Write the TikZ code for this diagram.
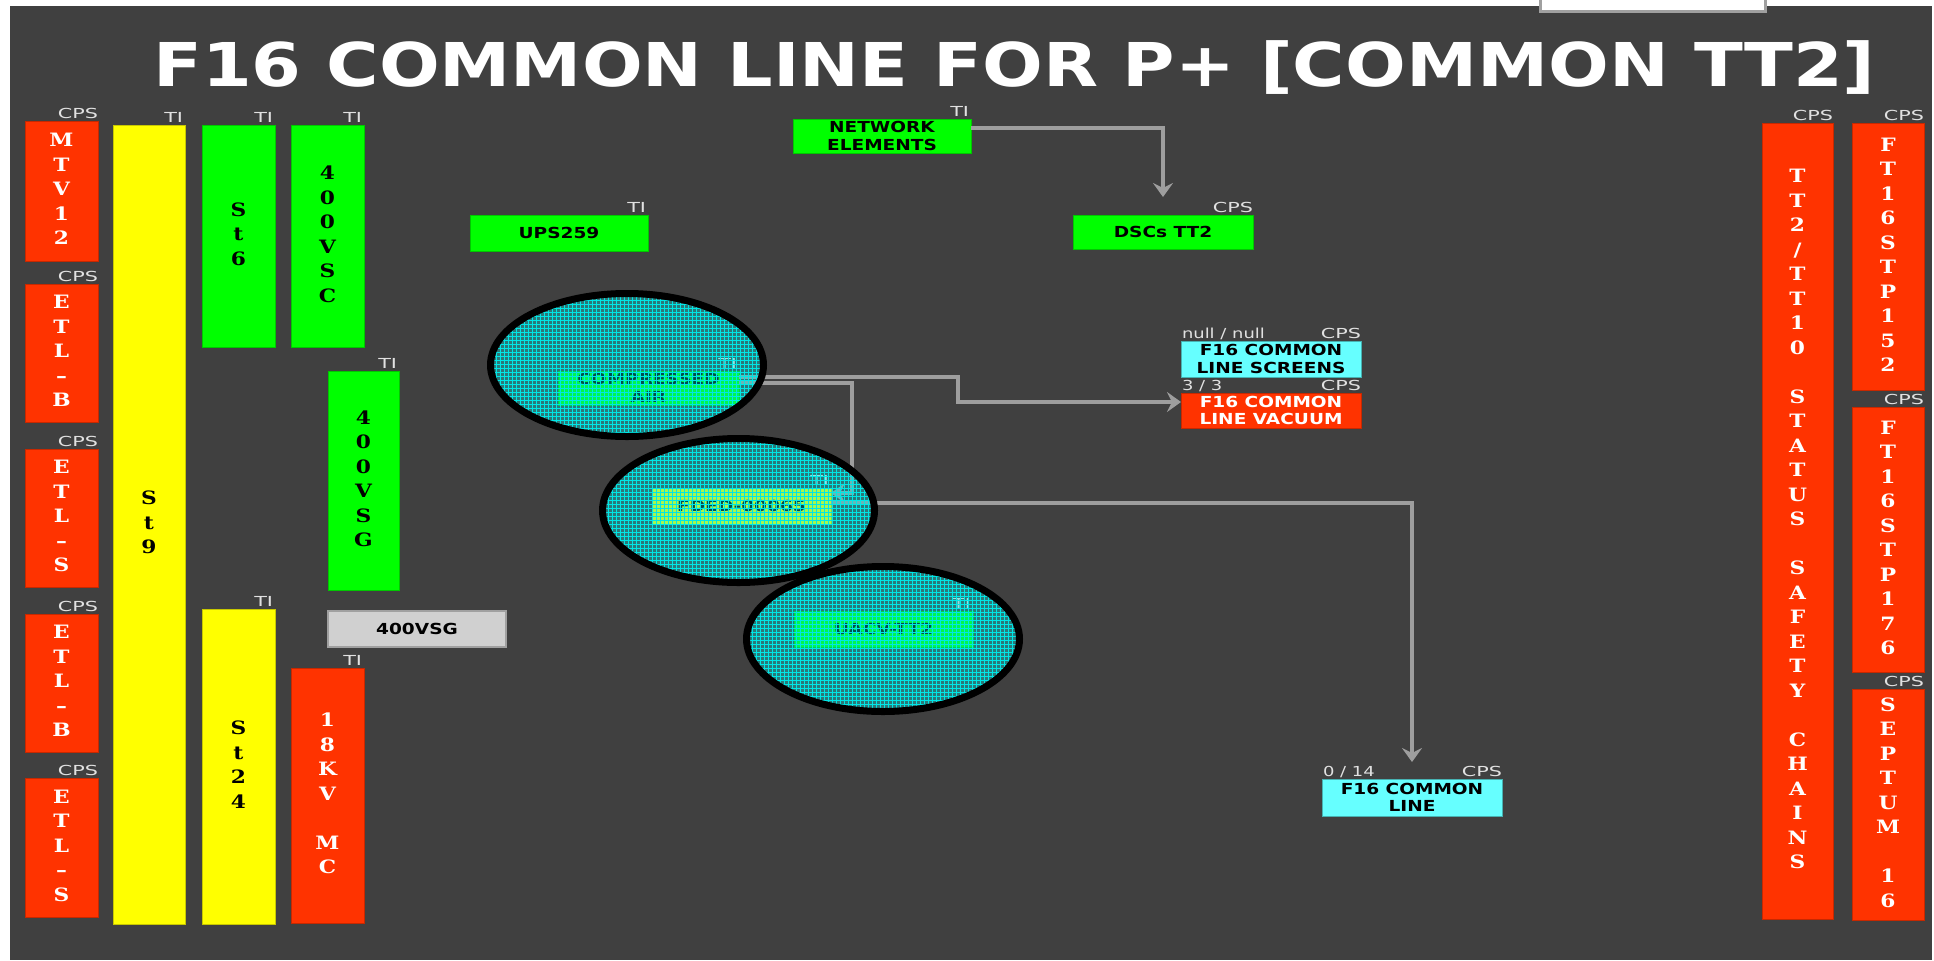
\documentclass[tikz,border=0pt]{standalone}
\usepackage{fontspec}
\usepackage{graphicx}
\usetikzlibrary{arrows.meta,calc,patterns.meta,shapes.geometric}

\newfontfamily\sansfam{DejaVu Sans}
\newfontfamily\serfam{DejaVu Serif}

\definecolor{bgc}{RGB}{64,64,64}
\definecolor{redbox}{RGB}{255,51,0}
\definecolor{greenbox}{RGB}{0,255,0}
\definecolor{yellowbox}{RGB}{255,255,0}
\definecolor{cyanbox}{RGB}{102,255,255}
\definecolor{greybox}{RGB}{208,208,208}
\definecolor{greyedge}{RGB}{160,160,160}
\definecolor{wirec}{RGB}{158,158,158}
\definecolor{tagc}{RGB}{225,225,225}
\definecolor{mesh}{RGB}{0,230,230}

% horizontal stretch of the screen fonts
\newcommand\wide[1]{\scalebox{1.22}[1]{#1}}
\newcommand\wtag[1]{\scalebox{1.5}[1]{#1}}
\newcommand\wfrac[1]{\scalebox{1.3}[1]{#1}}
% one character per row, for the tall columns
\newcommand\letters[1]{\scalebox{1.18}[1]{\begin{tabular}{@{}c@{}}#1\end{tabular}}}

\begin{document}
\begin{tikzpicture}[x=0.5pt,y=-0.5pt,
  box/.style={rectangle, inner sep=0pt, outer sep=0pt, line width=0.5pt, align=center},
  sz/.style 2 args={minimum width={#1*0.5pt}, minimum height={#2*0.5pt}},
  column/.style={box, font=\serfam\bfseries\fontsize{9.2}{12.25}\selectfont},
  redcol/.style={column, fill=redbox, draw=redbox!78!black, text=white},
  greencol/.style={column, fill=greenbox, draw=greenbox!78!black, text=black},
  yellowcol/.style={column, fill=yellowbox, draw=yellowbox!78!black, text=black},
  panel/.style={box, font=\sansfam\bfseries\fontsize{7.6}{8.8}\selectfont},
  greenpanel/.style={panel, fill=greenbox, draw=greenbox!78!black, text=black},
  yellowpanel/.style={panel, fill=yellowbox, draw=yellowbox!78!black, text=black},
  cyanpanel/.style={panel, fill=cyanbox, draw=cyanbox!70!black, text=black},
  redpanel/.style={panel, fill=redbox, draw=redbox!78!black, text=white},
  greypanel/.style={panel, fill=greybox, draw=greyedge, line width=1pt, text=black},
  tag/.style={inner sep=0pt, outer sep=0pt, text=tagc, font=\sansfam\fontsize{6.9}{7}\selectfont},
  wire/.style={draw=wirec, line width=1.75pt, -{Stealth[length=7pt,width=10pt,inset=2.5pt]}},
  ring/.style={ellipse, inner sep=0pt, draw=black, line width=3.5pt,
    preaction={fill=mesh, fill opacity=0.34},
    pattern={Hatch[distance=2pt,angle=0,line width=0.3pt]}, pattern color=mesh}
]
\useasboundingbox (0,0) rectangle (1934,960);
\fill[white] (0,0) rectangle (1934,960);
\fill[bgc] (10,6) rectangle (1932,960);
\draw[greyedge, line width=1.5pt, fill=white] (1540.5,-6) rectangle (1765.5,11);

% title
\node[anchor=base, inner sep=0pt, text=white, font=\sansfam\bfseries\fontsize{30.2}{32}\selectfont]
  (title) at (1014.5,86) {\scalebox{1.184}[1]{F16 COMMON LINE FOR P+ [COMMON TT2]}};

% left columns
\node[redcol, sz={73}{140}] (mtv) at (61.5,191) {\letters{M\\T\\V\\1\\2}};
\node[redcol, sz={73}{138}] (etlb1) at (61.5,353) {\letters{E\\T\\L\\–\\B}};
\node[redcol, sz={73}{138}] (etls1) at (61.5,518) {\letters{E\\T\\L\\–\\S}};
\node[redcol, sz={73}{138}] (etlb2) at (61.5,683) {\letters{E\\T\\L\\–\\B}};
\node[redcol, sz={73}{139}] (etls2) at (61.5,847.5) {\letters{E\\T\\L\\–\\S}};
\node[yellowcol, sz={72}{799}] (st9) at (149,524.5) {\letters{S\\t\\9}};
\node[greencol, sz={73}{222}] (st6) at (238.5,236) {\letters{S\\t\\6}};
\node[greencol, sz={73}{222}] (vsc) at (327.5,236) {\letters{4\\0\\0\\V\\S\\C}};
\node[greencol, sz={71}{219}] (vsgv) at (363.5,480.5) {\letters{4\\0\\0\\V\\S\\G}};
\node[greypanel, sz={178}{36}] (vsgh) at (417,629) {\wide{400VSG}};
\node[yellowcol, sz={73}{315}] (st24) at (238.5,766.5) {\letters{S\\t\\2\\4}};
\node[redcol, sz={73}{255}] (kv18) at (327.5,795.5) {\letters{1\\8\\K\\V\\~\\M\\C}};

% right columns
\node[redcol, sz={71}{796}] (tt2) at (1797.5,521)
  {\letters{T\\T\\2\\/\\T\\T\\1\\0\\~\\S\\T\\A\\T\\U\\S\\~\\S\\A\\F\\E\\T\\Y\\~\\C\\H\\A\\I\\N\\S}};
\node[redcol, sz={72}{267}] (ft152) at (1888,256.5) {\letters{F\\T\\1\\6\\S\\T\\P\\1\\5\\2}};
\node[redcol, sz={72}{265}] (ft176) at (1888,539.5) {\letters{F\\T\\1\\6\\S\\T\\P\\1\\7\\6}};
\node[redcol, sz={72}{231}] (septum) at (1888,804.5) {\letters{S\\E\\P\\T\\U\\M\\~\\1\\6}};

% panels
\node[greenpanel, sz={178}{34}] (net) at (882,136) {\wide{NETWORK}\\\wide{ELEMENTS}};
\node[greenpanel, sz={178}{36}] (ups) at (559,233) {\wide{UPS259}};
\node[greenpanel, sz={180}{34}] (dscs) at (1163,232) {\wide{DSCs TT2}};
\node[greenpanel, sz={181}{34}] (ca) at (648.5,388) {\wide{COMPRESSED}\\\wide{AIR}};
\node[yellowpanel, sz={179}{36}] (fded) at (741.5,506) {\wide{FDED-00065}};
\node[greenpanel, sz={179}{36}] (uacv) at (883.5,629) {\wide{UACV-TT2}};
\node[cyanpanel, sz={180}{36}] (scr) at (1271,359) {\wide{F16 COMMON}\\\wide{LINE SCREENS}};
\node[redpanel, sz={180}{35}] (vac) at (1271,410.5) {\wide{F16 COMMON}\\\wide{LINE VACUUM}};
\node[cyanpanel, sz={180}{37}] (fcl) at (1412,797.5) {\wide{F16 COMMON}\\\wide{LINE}};

% owner tags
\foreach \b in {mtv,etlb1,etls1,etlb2,etls2,tt2,ft152,ft176,septum,dscs,scr,vac,fcl}
  \node[tag, anchor=base east] (\b-cps) at ($(\b.north east)+(0,-3)$) {\wtag{CPS}};
\foreach \b in {st9,st6,vsc,vsgv,st24,kv18,net,ups,ca,fded,uacv}
  \node[tag, anchor=base east] (\b-ti) at ($(\b.north east)+(-2,-3)$) {\wtag{TI}};
\node[tag, anchor=base west] (scr-count) at ($(scr.north west)+(1,-3)$) {\wfrac{null / null}};
\node[tag, anchor=base west] (vac-count) at ($(vac.north west)+(1,-3)$) {\wfrac{3 / 3}};
\node[tag, anchor=base west] (fcl-count) at ($(fcl.north west)+(1,-3)$) {\wfrac{0 / 14}};

% links
\draw[wire] ($(net.east)+(0,-8)$) -| ($(dscs.north)+(0,-18)$);
\draw[wire] ($(ca.north east)+(0,6)$) -- ++(219,0) |- ($(vac.north west)+(0,9)$);
\draw[wire] ($(ca.north east)+(0,12)$) -- ++(113,0) |- ($(fded.north east)+(0,5)$);
\draw[wire] ($(fded.east)+(0,-3)$) -| ($(fcl.north)+(0,-17)$);

% highlight rings
\node[ring, sz={273}{143}] (ca-ring) at (627,365) {};
\node[ring, sz={272}{144}] (fded-ring) at (738.5,510.5) {};
\node[ring, sz={273}{145}] (uacv-ring) at (883,639) {};
\end{tikzpicture}
\end{document}
